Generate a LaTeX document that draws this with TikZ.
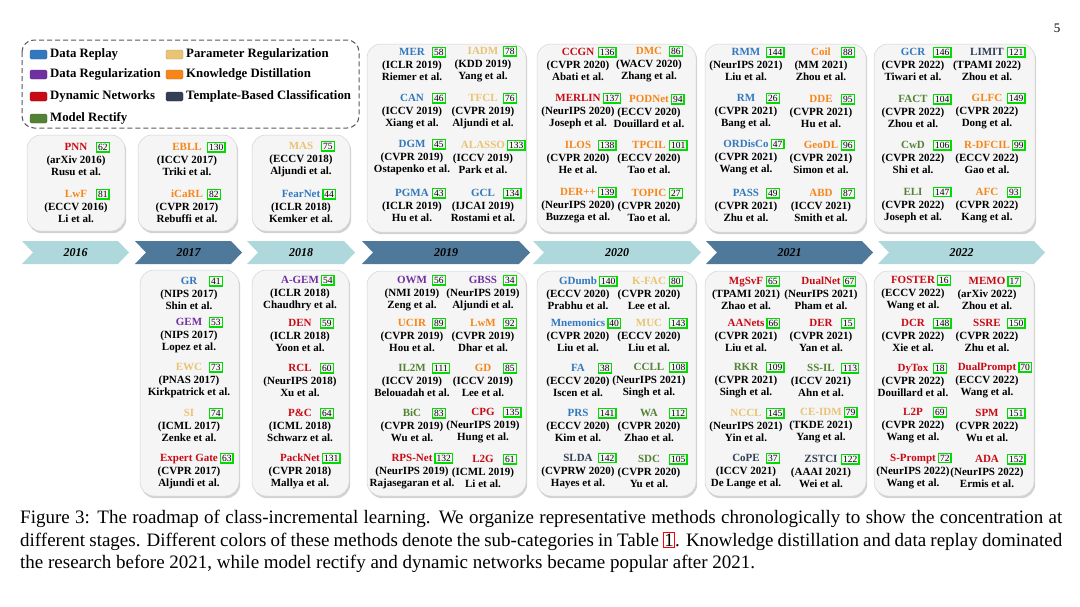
\documentclass[tikz,border=0pt]{standalone}
\usepackage{fontspec}
\setmainfont{Liberation Serif}
\usetikzlibrary{shadows}

\definecolor{cReplay}{RGB}{50,120,190}
\definecolor{cDataReg}{RGB}{112,48,160}
\definecolor{cDyn}{RGB}{200,10,20}
\definecolor{cRect}{RGB}{84,130,53}
\definecolor{cParam}{RGB}{232,196,116}
\definecolor{cKD}{RGB}{247,134,24}
\definecolor{cTemp}{RGB}{51,63,86}
\definecolor{citeg}{RGB}{0,220,0}
\definecolor{tlLight}{RGB}{174,216,219}
\definecolor{tlDark}{RGB}{78,121,155}

\newlength\nmw
\newlength\cgap
\newcommand\cit[1]{{\color{citeg}\fboxsep=0.8pt\fboxrule=1.4pt\fbox{\color{black}\fontsize{9.5}{9.5}\mdseries\selectfont#1}}}
\newcommand\ttl[3]{\settowidth\nmw{#2}\setlength\cgap{\dimexpr20pt-0.5\nmw\relax}\ifdim\cgap<2pt\cgap=2pt\fi\textcolor{#1}{#2}\rlap{\hspace*{\cgap}\cit{#3}}}

\tikzset{
  entry/.style={align=center, inner sep=0pt, font=\fontsize{11}{12.8}\selectfont\bfseries},
  yearbox/.style={rounded corners=14pt, fill=gray!8, draw=gray!35, line width=0.5pt,
    drop shadow={shadow xshift=1.2pt, shadow yshift=-2.2pt, opacity=0.35}},
  legbox/.style={rounded corners=12pt, dash pattern=on 5pt off 3pt, line width=1pt, draw=black!65},
  legtxt/.style={anchor=west, inner sep=0pt, font=\fontsize{12.8}{13}\selectfont\bfseries},
  legsq/.style={rounded corners=1.5pt, line width=0.4pt},
  yearlbl/.style={inner sep=0pt, font=\fontsize{12}{12}\selectfont\bfseries\itshape},
  capline/.style={anchor=base west, inner sep=0pt, font=\fontsize{19}{22}\selectfont}
}

\begin{document}
\begin{tikzpicture}[x=1pt,y=-1pt]
\fill[white] (0,0) rectangle (1080,606);
\useasboundingbox (0,0) rectangle (1080,606);

\node (pg) at (1057,28) {\fontsize{13}{13}\selectfont 5};

% legend
\draw[legbox] (22,40) rectangle (359,128);
\filldraw[legsq, fill=cReplay, draw=cReplay!80!black] (30,50) rectangle (47,59);
\filldraw[legsq, fill=cDataReg, draw=cDataReg!80!black] (30,70) rectangle (47,79);
\filldraw[legsq, fill=cDyn, draw=cDyn!80!black] (30,92) rectangle (47,101);
\filldraw[legsq, fill=cRect, draw=cRect!80!black] (30,114) rectangle (47,123);
\filldraw[legsq, fill=cParam, draw=cParam!80!black] (166,50) rectangle (183,59);
\filldraw[legsq, fill=cKD, draw=cKD!80!black] (166,70) rectangle (183,79);
\filldraw[legsq, fill=cTemp, draw=cTemp!80!black] (166,92) rectangle (183,101);
\node[legtxt] (lg1) at (50,54.5) {Data Replay};
\node[legtxt] (lg2) at (50,74.5) {Data Regularization};
\node[legtxt] (lg3) at (50,96.5) {Dynamic Networks};
\node[legtxt] (lg4) at (50,118.5) {Model Rectify};
\node[legtxt] (lg5) at (186,54.5) {Parameter Regularization};
\node[legtxt] (lg6) at (186,74.5) {Knowledge Distillation};
\node[legtxt] (lg7) at (186,96.5) {Template-Based Classification};

% year boxes
\draw[yearbox] (27,135) rectangle (125,231);
\draw[yearbox] (138,135) rectangle (237,231);
\draw[yearbox] (252,135) rectangle (350,231);
\draw[yearbox] (367,44) rectangle (526,232);
\draw[yearbox] (537,44) rectangle (696,232);
\draw[yearbox] (705,44) rectangle (866,232);
\draw[yearbox] (874,44) rectangle (1035,232);
\draw[yearbox] (140,270) rectangle (239,496);
\draw[yearbox] (252,270) rectangle (349,496);
\draw[yearbox] (367,271) rectangle (526,496);
\draw[yearbox] (537,271) rectangle (696,496);
\draw[yearbox] (705,271) rectangle (866,496);
\draw[yearbox] (874,271) rectangle (1034,496);

% timeline
\foreach \xa/\xb/\yr/\cl in {22/129/2016/tlLight, 135/242/2017/tlDark, 247/355/2018/tlLight,
  362/530/2019/tlDark, 533/701/2020/tlLight, 706/873/2021/tlDark, 878/1045/2022/tlLight}{
  \fill[\cl] (\xa,241) -- ({\xb-11},241) -- (\xb,252.5) -- ({\xb-11},264) -- (\xa,264) -- ({\xa+11},252.5) -- cycle;
  \node[yearlbl] (y\yr) at ({(\xa+\xb)/2},252.5) {\yr};
}

% 2016
\node[entry] (t16a) at (76,159) {\ttl{cDyn}{PNN}{62}\\(arXiv 2016)\\Rusu et al.};
\node[entry] (t16b) at (76,206) {\ttl{cKD}{LwF}{81}\\(ECCV 2016)\\Li et al.};

% 2017
\node[entry] (t17a) at (187,159) {\ttl{cKD}{EBLL}{130}\\(ICCV 2017)\\Triki et al.};
\node[entry] (t17b) at (187,206) {\ttl{cKD}{iCaRL}{82}\\(CVPR 2017)\\Rebuffi et al.};
\node[entry] (b17a) at (189,293) {\ttl{cReplay}{GR}{41}\\(NIPS 2017)\\Shin et al.};
\node[entry] (b17b) at (189,335) {\ttl{cDataReg}{GEM}{53}\\(NIPS 2017)\\Lopez et al.};
\node[entry] (b17c) at (189,380) {\ttl{cParam}{EWC}{73}\\(PNAS 2017)\\Kirkpatrick et al.};
\node[entry] (b17d) at (189,425) {\ttl{cParam}{SI}{74}\\(ICML 2017)\\Zenke et al.};
\node[entry] (b17e) at (189,471) {\ttl{cDyn}{Expert Gate}{63}\\(CVPR 2017)\\Aljundi et al.};

% 2018
\node[entry] (t18a) at (301,159) {\ttl{cParam}{MAS}{75}\\(ECCV 2018)\\Aljundi et al.};
\node[entry] (t18b) at (301,206) {\ttl{cReplay}{FearNet}{44}\\(ICLR 2018)\\Kemker et al.};
\node[entry] (b18a) at (300,293) {\ttl{cDataReg}{A-GEM}{54}\\(ICLR 2018)\\Chaudhry et al.};
\node[entry] (b18b) at (300,335) {\ttl{cDyn}{DEN}{59}\\(ICLR 2018)\\Yoon et al.};
\node[entry] (b18c) at (300,380) {\ttl{cDyn}{RCL}{60}\\(NeurIPS 2018)\\Xu et al.};
\node[entry] (b18d) at (300,425) {\ttl{cDyn}{P\&C}{64}\\(ICML 2018)\\Schwarz et al.};
\node[entry] (b18e) at (300,471) {\ttl{cDyn}{PackNet}{131}\\(CVPR 2018)\\Mallya et al.};

% 2019
\node[entry] (t19l1) at (412,64) {\ttl{cReplay}{MER}{58}\\(ICLR 2019)\\Riemer et al.};
\node[entry] (t19l2) at (412,111) {\ttl{cReplay}{CAN}{46}\\(ICCV 2019)\\Xiang et al.};
\node[entry] (t19l3) at (412,157) {\ttl{cReplay}{DGM}{45}\\(CVPR 2019)\\Ostapenko et al.};
\node[entry] (t19l4) at (412,205) {\ttl{cReplay}{PGMA}{43}\\(ICLR 2019)\\Hu et al.};
\node[entry] (t19r1) at (483,64) {\ttl{cParam}{IADM}{78}\\(KDD 2019)\\Yang et al.};
\node[entry] (t19r2) at (483,111) {\ttl{cParam}{TFCL}{76}\\(CVPR 2019)\\Aljundi et al.};
\node[entry] (t19r3) at (483,157) {\ttl{cParam}{ALASSO}{133}\\(ICCV 2019)\\Park et al.};
\node[entry] (t19r4) at (483,205) {\ttl{cReplay}{GCL}{134}\\(IJCAI 2019)\\Rostami et al.};
\node[entry] (b19l1) at (412,293) {\ttl{cDataReg}{OWM}{56}\\(NMI 2019)\\Zeng et al.};
\node[entry] (b19l2) at (412,335) {\ttl{cKD}{UCIR}{89}\\(CVPR 2019)\\Hou et al.};
\node[entry] (b19l3) at (412,380) {\ttl{cRect}{IL2M}{111}\\(ICCV 2019)\\Belouadah et al.};
\node[entry] (b19l4) at (412,425) {\ttl{cRect}{BiC}{83}\\(CVPR 2019)\\Wu et al.};
\node[entry] (b19l5) at (412,471) {\ttl{cDyn}{RPS-Net}{132}\\(NeurIPS 2019)\\Rajasegaran et al.};
\node[entry] (b19r1) at (483,293) {\ttl{cDataReg}{GBSS}{34}\\(NeurIPS 2019)\\Aljundi et al.};
\node[entry] (b19r2) at (483,335) {\ttl{cKD}{LwM}{92}\\(CVPR 2019)\\Dhar et al.};
\node[entry] (b19r3) at (483,380) {\ttl{cKD}{GD}{85}\\(ICCV 2019)\\Lee et al.};
\node[entry] (b19r4) at (483,425) {\ttl{cDyn}{CPG}{135}\\(NeurIPS 2019)\\Hung et al.};
\node[entry] (b19r5) at (483,471) {\ttl{cDyn}{L2G}{61}\\(ICML 2019)\\Li et al.};

% 2020
\node[entry] (t20l1) at (578,64) {\ttl{cDyn}{CCGN}{136}\\(CVPR 2020)\\Abati et al.};
\node[entry] (t20l2) at (578,111) {\ttl{cDyn}{MERLIN}{137}\\(NeurIPS 2020)\\Joseph et al.};
\node[entry] (t20l3) at (578,157) {\ttl{cKD}{ILOS}{138}\\(CVPR 2020)\\He et al.};
\node[entry] (t20l4) at (578,205) {\ttl{cKD}{DER++}{139}\\(NeurIPS 2020)\\Buzzega et al.};
\node[entry] (t20r1) at (649,64) {\ttl{cKD}{DMC}{86}\\(WACV 2020)\\Zhang et al.};
\node[entry] (t20r2) at (649,111) {\ttl{cKD}{PODNet}{94}\\(ECCV 2020)\\Douillard et al.};
\node[entry] (t20r3) at (649,157) {\ttl{cKD}{TPCIL}{101}\\(ECCV 2020)\\Tao et al.};
\node[entry] (t20r4) at (649,205) {\ttl{cKD}{TOPIC}{27}\\(CVPR 2020)\\Tao et al.};
\node[entry] (b20l1) at (578,293) {\ttl{cReplay}{GDumb}{140}\\(ECCV 2020)\\Prabhu et al.};
\node[entry] (b20l2) at (578,335) {\ttl{cReplay}{Mnemonics}{40}\\(CVPR 2020)\\Liu et al.};
\node[entry] (b20l3) at (578,380) {\ttl{cReplay}{FA}{38}\\(ECCV 2020)\\Iscen et al.};
\node[entry] (b20l4) at (578,425) {\ttl{cReplay}{PRS}{141}\\(ECCV 2020)\\Kim et al.};
\node[entry] (b20l5) at (578,471) {\ttl{cTemp}{SLDA}{142}\\(CVPRW 2020)\\Hayes et al.};
\node[entry] (b20r1) at (649,293) {\ttl{cParam}{K-FAC}{80}\\(CVPR 2020)\\Lee et al.};
\node[entry] (b20r2) at (649,335) {\ttl{cParam}{MUC}{143}\\(ECCV 2020)\\Liu et al.};
\node[entry] (b20r3) at (649,380) {\ttl{cRect}{CCLL}{108}\\(NeurIPS 2021)\\Singh et al.};
\node[entry] (b20r4) at (649,425) {\ttl{cRect}{WA}{112}\\(CVPR 2020)\\Zhao et al.};
\node[entry] (b20r5) at (649,471) {\ttl{cRect}{SDC}{105}\\(CVPR 2020)\\Yu et al.};

% 2021
\node[entry] (t21l1) at (746,64) {\ttl{cReplay}{RMM}{144}\\(NeurIPS 2021)\\Liu et al.};
\node[entry] (t21l2) at (746,111) {\ttl{cReplay}{RM}{26}\\(CVPR 2021)\\Bang et al.};
\node[entry] (t21l3) at (746,157) {\ttl{cReplay}{ORDisCo}{47}\\(CVPR 2021)\\Wang et al.};
\node[entry] (t21l4) at (746,205) {\ttl{cReplay}{PASS}{49}\\(CVPR 2021)\\Zhu et al.};
\node[entry] (t21r1) at (821,64) {\ttl{cKD}{Coil}{88}\\(MM 2021)\\Zhou et al.};
\node[entry] (t21r2) at (821,111) {\ttl{cKD}{DDE}{95}\\(CVPR 2021)\\Hu et al.};
\node[entry] (t21r3) at (821,157) {\ttl{cKD}{GeoDL}{96}\\(CVPR 2021)\\Simon et al.};
\node[entry] (t21r4) at (821,205) {\ttl{cKD}{ABD}{87}\\(ICCV 2021)\\Smith et al.};
\node[entry] (b21l1) at (746,293) {\ttl{cDyn}{MgSvF}{65}\\(TPAMI 2021)\\Zhao et al.};
\node[entry] (b21l2) at (746,335) {\ttl{cDyn}{AANets}{66}\\(CVPR 2021)\\Liu et al.};
\node[entry] (b21l3) at (746,380) {\ttl{cRect}{RKR}{109}\\(CVPR 2021)\\Singh et al.};
\node[entry] (b21l4) at (746,425) {\ttl{cParam}{NCCL}{145}\\(NeurIPS 2021)\\Yin et al.};
\node[entry] (b21l5) at (746,471) {\ttl{cTemp}{CoPE}{37}\\(ICCV 2021)\\De Lange et al.};
\node[entry] (b21r1) at (821,293) {\ttl{cDyn}{DualNet}{67}\\(NeurIPS 2021)\\Pham et al.};
\node[entry] (b21r2) at (821,335) {\ttl{cDyn}{DER}{15}\\(CVPR 2021)\\Yan et al.};
\node[entry] (b21r3) at (821,380) {\ttl{cRect}{SS-IL}{113}\\(ICCV 2021)\\Ahn et al.};
\node[entry] (b21r4) at (821,425) {\ttl{cParam}{CE-IDM}{79}\\(TKDE 2021)\\Yang et al.};
\node[entry] (b21r5) at (821,471) {\ttl{cTemp}{ZSTCI}{122}\\(AAAI 2021)\\Wei et al.};

% 2022
\node[entry] (t22l1) at (913,64) {\ttl{cReplay}{GCR}{146}\\(CVPR 2022)\\Tiwari et al.};
\node[entry] (t22l2) at (913,111) {\ttl{cRect}{FACT}{104}\\(CVPR 2022)\\Zhou et al.};
\node[entry] (t22l3) at (913,157) {\ttl{cRect}{CwD}{106}\\(CVPR 2022)\\Shi et al.};
\node[entry] (t22l4) at (913,205) {\ttl{cRect}{ELI}{147}\\(CVPR 2022)\\Joseph et al.};
\node[entry] (t22r1) at (987,64) {\ttl{cTemp}{LIMIT}{121}\\(TPAMI 2022)\\Zhou et al.};
\node[entry] (t22r2) at (987,111) {\ttl{cKD}{GLFC}{149}\\(CVPR 2022)\\Dong et al.};
\node[entry] (t22r3) at (987,157) {\ttl{cKD}{R-DFCIL}{99}\\(ECCV 2022)\\Gao et al.};
\node[entry] (t22r4) at (987,205) {\ttl{cKD}{AFC}{93}\\(CVPR 2022)\\Kang et al.};
\node[entry] (b22l1) at (913,293) {\ttl{cDyn}{FOSTER}{16}\\(ECCV 2022)\\Wang et al.};
\node[entry] (b22l2) at (913,335) {\ttl{cDyn}{DCR}{148}\\(CVPR 2022)\\Xie et al.};
\node[entry] (b22l3) at (913,380) {\ttl{cDyn}{DyTox}{18}\\(CVPR 2022)\\Douillard et al.};
\node[entry] (b22l4) at (913,425) {\ttl{cDyn}{L2P}{69}\\(CVPR 2022)\\Wang et al.};
\node[entry] (b22l5) at (913,471) {\ttl{cDyn}{S-Prompt}{72}\\(NeurIPS 2022)\\Wang et al.};
\node[entry] (b22r1) at (987,293) {\ttl{cDyn}{MEMO}{17}\\(arXiv 2022)\\Zhou et al.};
\node[entry] (b22r2) at (987,335) {\ttl{cDyn}{SSRE}{150}\\(CVPR 2022)\\Zhu et al.};
\node[entry] (b22r3) at (987,380) {\ttl{cDyn}{DualPrompt}{70}\\(ECCV 2022)\\Wang et al.};
\node[entry] (b22r4) at (987,425) {\ttl{cDyn}{SPM}{151}\\(CVPR 2022)\\Wu et al.};
\node[entry] (b22r5) at (987,471) {\ttl{cDyn}{ADA}{152}\\(NeurIPS 2022)\\Ermis et al.};

% caption
\node[capline] (cap1) at (20,523) {\makebox[1042pt][s]{Figure 3: The roadmap of class-incremental learning. We organize representative methods chronologically to show the concentration at}};
\node[capline] (cap2) at (20,546) {\makebox[1042pt][s]{different stages. Different colors of these methods denote the sub-categories in Table {\color{red}\fboxsep=0.5pt\fboxrule=0.8pt\fbox{\color{black}1}}. Knowledge distillation and data replay dominated}};
\node[capline] (cap3) at (20,568) {the research before 2021, while model rectify and dynamic networks became popular after 2021.};
\end{tikzpicture}
\end{document}
